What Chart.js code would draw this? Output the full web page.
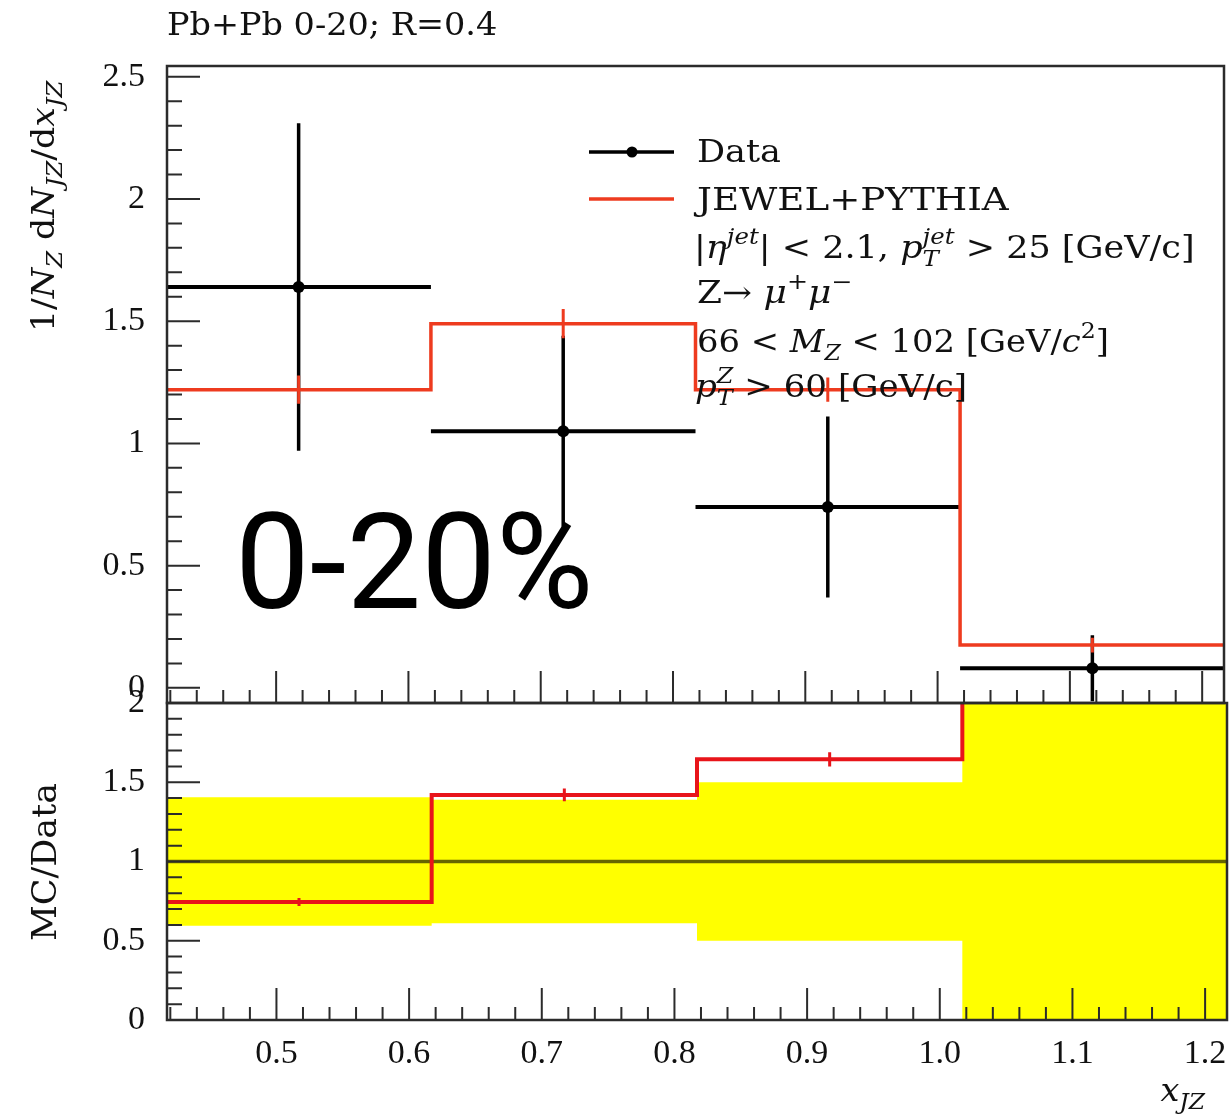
<!DOCTYPE html>
<html>
<head>
<meta charset="utf-8">
<title>x_JZ Pb+Pb 0-20%</title>
<script src="https://cdn.jsdelivr.net/npm/chart.js@4.4.1/dist/chart.umd.min.js"></script>
<style>
  html, body { margin: 0; padding: 0; background: #fff; }
  #wrap { position: relative; width: 1230px; height: 1118px; }
  #wrap canvas { position: absolute; left: 0; top: 0; }
</style>
</head>
<body>
<div id="wrap">
  <canvas id="ratio" width="1230" height="1118"></canvas>
  <canvas id="main" width="1230" height="1118"></canvas>
</div>
<script>
// x_JZ binning
const binEdges = [0.417, 0.617, 0.817, 1.017, 1.217];
const binCenters = [0.517, 0.717, 0.917, 1.117];

// data, 1/N_Z dN_JZ/dx_JZ
const dataValues = [1.64, 1.05, 0.74, 0.08];
const dataErrors = [0.67, 0.39, 0.37, 0.135];

// JEWEL+PYTHIA
const jewelValues = [1.22, 1.49, 1.22, 0.175];
const jewelErrors = [0.058, 0.06, 0.05, 0.03];

// MC/Data and the yellow data band
const ratioValues = [0.745, 1.42, 1.645, 2.2];
const ratioErrors = [0.025, 0.04, 0.045, 0.1];
const bandLow = [0.595, 0.61, 0.5, -0.7];
const bandHigh = [1.405, 1.39, 1.5, 2.7];

// ticks
const xTicks = [0.5, 0.6, 0.7, 0.8, 0.9, 1.0, 1.1, 1.2];
const xTickLabels = ['0.5', '0.6', '0.7', '0.8', '0.9', '1.0', '1.1', '1.2'];
const yTicksMain = [0, 0.5, 1, 1.5, 2, 2.5];
const yTicksRatio = [0, 0.5, 1, 1.5, 2];

const X_MIN = 0.4175, X_MAX = 1.2165;
const RED = '#ee3b1f';
const RED2 = '#e8141a';
const INK = '#111';
const SERIF = '"DejaVu Serif"';
const TICKFONT = { family: '"Liberation Serif"', size: 34 };

// helpers to turn bins into line points
function vBars(centers, vals, errs) {
  const pts = [];
  centers.forEach((c, i) => {
    pts.push({ x: c, y: vals[i] - errs[i] }, { x: c, y: vals[i] + errs[i] }, { x: c, y: null });
  });
  return pts;
}
function hBars(edges, vals) {
  const pts = [];
  vals.forEach((v, i) => {
    pts.push({ x: edges[i], y: v }, { x: edges[i + 1], y: v }, { x: edges[i + 1], y: null });
  });
  return pts;
}
function steps(edges, vals) {
  return edges.map((e, i) => ({ x: e, y: vals[Math.min(i, vals.length - 1)] }));
}

function lineSet(data, color, width, order, extra) {
  return Object.assign({
    data: data, showLine: true, borderColor: color, borderWidth: width,
    pointRadius: 0, fill: false, spanGaps: false, order: order, borderCapStyle: 'butt'
  }, extra || {});
}

// text with italic / sub / superscript pieces: [text, flags]  i=italic _=sub ^=sup s=stack over previous
function drawRich(ctx, x, y, parts, size, stretch) {
  const sx = stretch || 1;
  ctx.save();
  ctx.translate(x, y);
  ctx.scale(sx, 1);
  let cx = 0, lastStart = 0;
  parts.forEach(([t, f]) => {
    f = f || '';
    const small = f.includes('_') || f.includes('^');
    const s = small ? size * 0.7 : size;
    ctx.font = (f.includes('i') ? 'italic ' : '') + s + 'px ' + SERIF;
    const px = f.includes('s') ? lastStart : cx;
    const dy = f.includes('_') ? size * 0.25 : f.includes('^') ? -size * 0.45 : 0;
    ctx.fillText(t, px, dy);
    const w = ctx.measureText(t).width;
    if (f.includes('s')) cx = Math.max(cx, px + w);
    else { lastStart = px; cx = px + w; }
  });
  ctx.restore();
  return cx * sx;
}
function richWidth(ctx, parts, size, stretch) {
  ctx.save();
  ctx.globalAlpha = 0;
  const w = drawRich(ctx, 0, 0, parts, size, stretch);
  ctx.restore();
  return w;
}

// ROOT style frame with ticks pointing inwards
function frameTicks(chart, yMajor) {
  const { ctx, chartArea: a, scales } = chart;
  const xs = scales.x, ys = scales.y;
  ctx.save();
  ctx.strokeStyle = '#2b2b2b';
  ctx.lineWidth = 2;
  ctx.beginPath();
  for (let k = Math.ceil(ys.min / 0.1 - 1e-6); k * 0.1 <= ys.max + 1e-6; k++) {
    const v = k * 0.1;
    const major = yMajor.some(m => Math.abs(m - v) < 1e-6);
    const py = ys.getPixelForValue(v);
    ctx.moveTo(a.left, py);
    ctx.lineTo(a.left + (major ? 33 : 15), py);
  }
  for (let k = Math.ceil(xs.min / 0.02 - 1e-6); k * 0.02 <= xs.max + 1e-6; k++) {
    const v = k * 0.02;
    const major = xTicks.some(m => Math.abs(m - v) < 1e-6);
    const px = xs.getPixelForValue(v);
    ctx.moveTo(px, a.bottom);
    ctx.lineTo(px, a.bottom - (major ? 32 : 13));
  }
  ctx.stroke();
  ctx.lineWidth = 2.5;
  ctx.strokeRect(a.left, a.top, a.right - a.left, a.bottom - a.top);
  ctx.restore();
}

const mainDecor = {
  id: 'mainDecor',
  afterDatasetsDraw(chart) {
    frameTicks(chart, yTicksMain);
  },
  afterDraw(chart) {
    const ctx = chart.ctx;
    ctx.save();
    ctx.fillStyle = INK;
    ctx.textBaseline = 'alphabetic';
    drawRich(ctx, 167, 35, [['Pb+Pb 0-20; R=0.4']], 31, 1.08);

    // y title
    ctx.save();
    ctx.translate(54, 332);
    ctx.rotate(-Math.PI / 2);
    drawRich(ctx, 0, 0, [['1/'], ['N', 'i'], ['Z', 'i_'], [' d'], ['N', 'i'], ['JZ', 'i_'], ['/d'], ['x', 'i'], ['JZ', 'i_']], 31, 1.12);
    ctx.restore();

    // legend
    ctx.lineWidth = 3.5;
    ctx.strokeStyle = '#000';
    ctx.beginPath(); ctx.moveTo(589, 152); ctx.lineTo(674, 152); ctx.stroke();
    ctx.fillStyle = '#000';
    ctx.beginPath(); ctx.arc(632, 152, 5.5, 0, Math.PI * 2); ctx.fill();
    ctx.strokeStyle = RED;
    ctx.beginPath(); ctx.moveTo(589, 199); ctx.lineTo(674, 199); ctx.stroke();
    ctx.fillStyle = INK;
    const fs = 31;
    drawRich(ctx, 697, 162, [['Data']], fs, 1.13);
    drawRich(ctx, 697, 210, [['JEWEL+PYTHIA']], fs, 1.2);
    drawRich(ctx, 694, 258, [['|'], ['\u03B7', 'i'], ['jet', 'i^'], ['| < 2.1, '], ['p', 'i'], ['T', 'i_'], ['jet', 'i^s'], [' > 25 [GeV/c]']], fs, 1.13);
    drawRich(ctx, 697, 303, [['Z\u2192 '], ['\u03BC', 'i'], ['+', '^'], ['\u03BC', 'i'], ['\u2212', '^']], fs, 1.16);
    drawRich(ctx, 697, 352, [['66 < '], ['M', 'i'], ['Z', 'i_'], [' < 102 [GeV/'], ['c', 'i'], ['2', '^'], [']']], fs, 1.09);
    drawRich(ctx, 695, 397, [['p', 'i'], ['T', 'i_'], ['Z', 'i^s'], [' > 60 [GeV/c]']], fs, 1.1);

    // centrality label
    ctx.font = '133px Roboto';
    ctx.fillStyle = '#000';
    ctx.fillText('0-20%', 235, 608);
    ctx.restore();
  }
};

const ratioDecor = {
  id: 'ratioDecor',
  afterDatasetsDraw(chart) {
    frameTicks(chart, yTicksRatio);
  },
  afterDraw(chart) {
    const ctx = chart.ctx;
    ctx.save();
    ctx.fillStyle = INK;
    ctx.save();
    ctx.translate(56, 862);
    ctx.rotate(-Math.PI / 2);
    const mc = [['MC/Data']];
    const mw = richWidth(ctx, mc, 33, 1.06);
    drawRich(ctx, -mw / 2, 0, mc, 33, 1.06);
    ctx.restore();
    const xl = [['x', 'i'], ['JZ', 'i_']];
    const w = richWidth(ctx, xl, 31, 1.08);
    drawRich(ctx, 1205 - w, 1101, xl, 31, 1.08);
    ctx.restore();
  }
};

const common = {
  responsive: false,
  animation: false,
  devicePixelRatio: 1,
  events: [],
  plugins: { legend: { display: false }, tooltip: { enabled: false }, title: { display: false } }
};

function yScale(min, max, ticks) {
  return {
    type: 'linear', min: min, max: max,
    afterBuildTicks: s => { s.ticks = ticks.map(v => ({ value: v })); },
    afterFit: s => { s.width = 167; },
    grid: { display: false, drawTicks: false },
    border: { display: false },
    ticks: { padding: 22, color: INK, font: TICKFONT, callback: v => String(v) }
  };
}

new Chart(document.getElementById('main'), {
  type: 'scatter',
  data: {
    datasets: [
      lineSet(vBars(binCenters, jewelValues, jewelErrors), RED, 3, 0),
      lineSet(steps(binEdges, jewelValues), RED, 3.5, 1, { stepped: 'before' }),
      { data: binCenters.map((c, i) => ({ x: c, y: dataValues[i] })), pointRadius: 6, pointBackgroundColor: '#000', pointBorderWidth: 0, order: 2 },
      lineSet(vBars(binCenters, dataValues, dataErrors), '#000', 3.5, 3),
      lineSet(hBars(binEdges, dataValues), '#000', 4, 3)
    ]
  },
  options: Object.assign({}, common, {
    layout: { padding: { top: 66, bottom: 415, left: 0, right: 3 } },
    scales: {
      x: { type: 'linear', min: X_MIN, max: X_MAX, display: false },
      y: yScale(-0.062, 2.544, yTicksMain)
    }
  }),
  plugins: [mainDecor]
});

new Chart(document.getElementById('ratio'), {
  type: 'scatter',
  data: {
    datasets: [
      lineSet(vBars(binCenters, ratioValues, ratioErrors), RED2, 3, 0),
      lineSet(steps(binEdges, ratioValues), RED2, 4, 1, { stepped: 'before' }),
      lineSet([{ x: X_MIN, y: 1 }, { x: X_MAX, y: 1 }], 'rgba(0,0,0,0.6)', 3.5, 2),
      lineSet(steps(binEdges, bandHigh), 'rgba(0,0,0,0)', 0, 3, { stepped: 'before', fill: '+1', backgroundColor: '#ffff00' }),
      lineSet(steps(binEdges, bandLow), 'rgba(0,0,0,0)', 0, 4, { stepped: 'before' })
    ]
  },
  options: Object.assign({}, common, {
    layout: { padding: { top: 703, bottom: 0, left: 0, right: 3 } },
    scales: {
      x: {
        type: 'linear', min: X_MIN, max: X_MAX,
        afterBuildTicks: s => { s.ticks = xTicks.map(v => ({ value: v })); },
        afterFit: s => { s.height = 98; s.paddingLeft = 0; s.paddingRight = 0; },
        grid: { display: false, drawTicks: false },
        border: { display: false },
        ticks: { padding: 14, color: INK, font: TICKFONT, autoSkip: false, maxRotation: 0, minRotation: 0,
          callback: (v, i) => xTickLabels[i] }
      },
      y: yScale(0, 2, yTicksRatio)
    }
  }),
  plugins: [ratioDecor]
});
</script>
</body>
</html>
